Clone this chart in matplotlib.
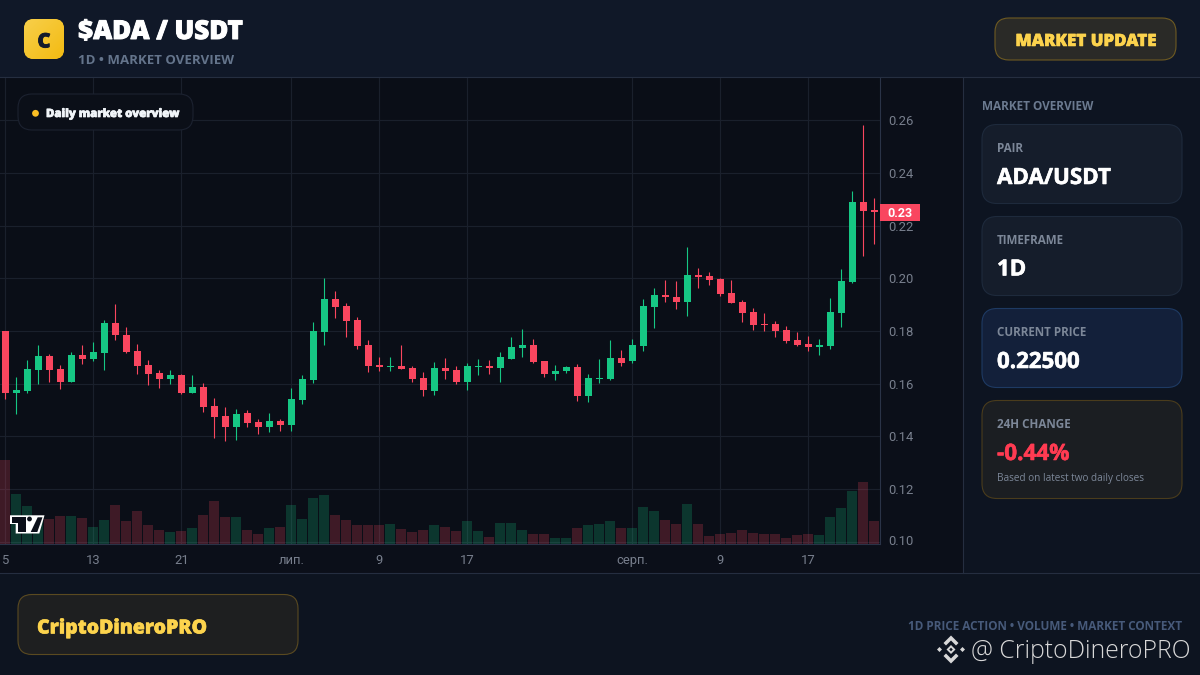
import matplotlib
matplotlib.use("Agg")
import matplotlib.pyplot as plt
import matplotlib.patheffects as pe
import matplotlib.transforms as mtrans
import numpy as np
from matplotlib.patches import FancyBboxPatch, Rectangle, Polygon, Circle
from matplotlib.colors import LinearSegmentedColormap

opens = [.1800,.1564,.1572,.1652,.1705,.1656,.1606,.1709,.1694,.1716,
         .1830,.1785,.1724,.1671,.1640,.1618,.1633,.1564,.1587,.1515,
         .1477,.1435,.1489,.1454,.1435,.1458,.1443,.1538,.1614,.1796,
         .1922,.1895,.1842,.1747,.1671,.1663,.1667,.1659,.1621,.1572,
         .1659,.1652,.1606,.1663,.1667,.1659,.1694,.1735,.1747,.1686,
         .1637,.1648,.1663,.1553,.1619,.1619,.1699,.1684,.1744,.1891,
         .1937,.1929,.1910,.2013,.2009,.1997,.1944,.1910,.1872,.1827,
         .1827,.1804,.1766,.1751,.1739,.1743,.1868,.1986,.2290,.2260]
highs = [.1800,.1625,.1690,.1747,.1713,.1671,.1720,.1747,.1758,.1842,
         .1903,.1815,.1751,.1690,.1652,.1652,.1637,.1633,.1602,.1545,
         .1511,.1504,.1500,.1466,.1489,.1466,.1583,.1633,.1834,.2001,
         .1952,.1906,.1853,.1766,.1701,.1701,.1747,.1667,.1644,.1682,
         .1697,.1667,.1678,.1694,.1690,.1720,.1777,.1808,.1770,.1686,
         .1671,.1667,.1675,.1637,.1695,.1767,.1729,.1771,.1922,.1963,
         .1994,.1990,.2119,.2039,.2024,.2001,.1994,.1918,.1887,.1868,
         .1838,.1819,.1796,.1781,.1770,.1925,.2035,.2332,.2582,.2305]
lows = [.1542,.1485,.1564,.1599,.1606,.1580,.1606,.1675,.1686,.1652,
        .1766,.1716,.1637,.1595,.1583,.1599,.1561,.1564,.1492,.1394,
        .1382,.1386,.1435,.1409,.1416,.1420,.1420,.1523,.1602,.1747,
        .1849,.1777,.1732,.1644,.1648,.1648,.1656,.1606,.1553,.1557,
        .1618,.1599,.1576,.1633,.1637,.1606,.1694,.1701,.1678,.1625,
        .1614,.1640,.1534,.1530,.1604,.1615,.1665,.1680,.1725,.1811,
        .1910,.1884,.1857,.1963,.1975,.1933,.1906,.1834,.1804,.1800,
        .1777,.1754,.1743,.1724,.1709,.1732,.1815,.1982,.2085,.2130]
closes = [.1564,.1576,.1656,.1705,.1652,.1606,.1709,.1694,.1720,.1830,
          .1785,.1720,.1667,.1637,.1618,.1633,.1564,.1587,.1511,.1473,
          .1435,.1485,.1451,.1435,.1458,.1443,.1542,.1618,.1800,.1922,
          .1891,.1838,.1743,.1667,.1663,.1667,.1656,.1618,.1576,.1659,
          .1648,.1606,.1667,.1667,.1659,.1701,.1739,.1747,.1682,.1637,
          .1648,.1663,.1553,.1621,.1623,.1699,.1680,.1748,.1895,.1937,
          .1929,.1910,.2013,.2005,.1994,.1941,.1906,.1868,.1823,.1823,
          .1800,.1762,.1747,.1739,.1747,.1872,.1990,.2290,.2256,.2250]
volumes = [252,150,114,75,75,84,84,78,51,72,
           117,69,99,57,42,36,39,48,87,129,
           81,81,42,30,48,51,117,75,138,147,
           87,72,57,57,57,60,45,36,42,57,
           51,39,69,39,21,63,63,42,30,30,
           18,18,48,57,60,69,48,48,111,99,
           72,60,120,60,24,30,33,42,33,30,
           30,18,27,30,27,81,108,159,186,69]
price_ticks = [0.10, 0.12, 0.14, 0.16, 0.18, 0.20, 0.22, 0.24, 0.26]
price_tick_labels = ["0.10", "0.12", "0.14", "0.16", "0.18", "0.20", "0.22", "0.24", "0.26"]
date_tick_positions = [0, 8, 16, 26, 34, 42, 57, 65, 73]
date_tick_labels = ["5", "13", "21", "лип.", "9", "17", "серп.", "9", "17"]

GREEN, RED = "#16c784", "#f9465f"
UI = ["Open Sans", "Noto Sans", "DejaVu Sans"]
AXF = ["Roboto", "DejaVu Sans"]
GRID = "#1a202c"
LINE = "#252e40"

def px(v):
    return v * 0.72

fig = plt.figure(figsize=(12, 6.75), dpi=100, facecolor="#0d1420")

bg = fig.add_axes([0, 0, 1, 1], zorder=0)
bg.set_xlim(0, 1200); bg.set_ylim(675, 0); bg.axis("off")
bg.add_patch(Rectangle((0, 0), 1200, 77.5, fc="#101828", ec="none"))
bg.add_patch(Rectangle((964, 78), 236, 495, fc="#0d1421", ec="none"))
bg.add_patch(Rectangle((0, 78), 964, 495, fc="#0b0f19", ec="none"))
bg.add_patch(Rectangle((0, 574), 1200, 101, fc="#0d1420", ec="none"))

# chart
L, R, T, B = 0, 880, 78, 544
rect = [L / 1200, 1 - B / 675, (R - L) / 1200, (B - T) / 675]
ax = fig.add_axes(rect, zorder=1)
ax.set_facecolor("#0a0e17")
xlim = (-0.485, 79.515)
ylim = (0.26 - (B - 120.3) / 2633, 0.26 + (120.3 - T) / 2633)
ax.set_xlim(*xlim); ax.set_ylim(*ylim)
ax.yaxis.tick_right()
ax.set_yticks(price_ticks); ax.set_yticklabels(price_tick_labels)
ax.set_xticks(date_tick_positions); ax.set_xticklabels(date_tick_labels)
ax.tick_params(axis="both", length=0, labelcolor="#787f8d", labelsize=px(13))
ax.tick_params(axis="y", pad=6)
ax.tick_params(axis="x", pad=7)
for lab in ax.get_xticklabels() + ax.get_yticklabels():
    lab.set_fontfamily(AXF)
# the lowest price label sits slightly above its grid line
low_label = ax.get_yticklabels()[0]
low_label.set_transform(low_label.get_transform() + mtrans.ScaledTranslation(0, 2 / 100, fig.dpi_scale_trans))
ax.grid(True, color=GRID, lw=0.85)
ax.set_axisbelow(True)
for s in ("top", "left"):
    ax.spines[s].set_visible(False)
for s in ("right", "bottom"):
    ax.spines[s].set_color("#2a3347"); ax.spines[s].set_linewidth(0.8)

idx = np.arange(len(opens))
col = [GREEN if c >= o else RED for o, c in zip(opens, closes)]
wicks = ax.vlines(idx, lows, highs, colors=col, lw=0.8, zorder=3)
wicks.set_snap(True)
body_b = [min(o, c) for o, c in zip(opens, closes)]
body_h = [max(abs(c - o), 0.0004) for o, c in zip(opens, closes)]
ax.bar(idx, body_h, bottom=body_b, width=0.64, color=col, lw=0, zorder=4)

vol = fig.add_axes(rect, zorder=2)
vol.patch.set_alpha(0)
vol.set_xlim(*xlim); vol.set_ylim(0, (B - T) * 3)
vol.axis("off")
vol.bar(idx, volumes, width=0.91, color=col, alpha=0.22, lw=0)

# overlay
fg = fig.add_axes([0, 0, 1, 1], zorder=5)
fg.patch.set_alpha(0)
fg.set_xlim(0, 1200); fg.set_ylim(675, 0); fg.axis("off")

def card(x0, y0, x1, y1, r, fc, ec, lw=0.8):
    p = FancyBboxPatch((x0, y0), x1 - x0, y1 - y0, boxstyle=f"round,pad=0,rounding_size={r}",
                       fc=fc, ec=ec, lw=lw, mutation_aspect=1)
    fg.add_patch(p)
    return p

def txt(x, y, s, size, color, weight="bold", ha="left", family=UI, thick=0):
    t = fg.text(x, y, s, fontsize=px(size), color=color, fontweight=weight, ha=ha,
                va="center_baseline", family=family)
    if thick:
        t.set_path_effects([pe.withStroke(linewidth=thick, foreground=color)])
    return t

for y in (77.2, 573.2):
    fg.plot([0, 1200], [y, y], color=LINE, lw=0.8)
fg.plot([963.2, 963.2], [78, 573], color=LINE, lw=0.8)

# logo
logo = card(24, 19, 64, 59, 10, "#f8c52c", "none", 0)
grad = LinearSegmentedColormap.from_list("g", ["#f8cf4a", "#f3bb12"])
gx, gy = np.meshgrid(np.linspace(0, 1, 40), np.linspace(0, 1, 40))
im = fg.imshow(gx + gy, cmap=grad, extent=(24, 64, 59, 19), aspect="auto", zorder=1.5)
im.set_clip_path(logo)
fg.set_xlim(0, 1200); fg.set_ylim(675, 0)
txt(44, 40, "C", 20, "#141a2b", "heavy", "center", thick=0.6).set_zorder(3)
txt(78, 29, "$ADA / USDT", 26, "#ffffff", "heavy", thick=0.7)
txt(78, 59.5, "1D • MARKET OVERVIEW", 13.2, "#64748b")

card(995, 18, 1176, 60, 14, "#2a2a27", "#6e5a22", 0.8)
txt(1085.5, 39.5, "MARKET UPDATE", 16.9, "#fcd34d", "heavy", "center", thick=0.4)

card(18, 94, 193, 130, 14, "#0b0f18", "#1c2230", 0.8)
fg.add_patch(Circle((35.5, 113.3), 3.4, fc="#fbbf24", ec="none"))
txt(46, 113, "Daily market overview", 11.4, "#f1f5f9", "heavy", thick=0.5)

# TV mark
fg.add_patch(Polygon([(10, 515.3), (44.5, 515.3), (39.3, 533.5), (15.7, 533.5), (15.7, 524), (10, 524)],
                     fc="#ffffff", ec="none"))
fg.add_patch(Polygon([(12, 517.3), (26, 517.3), (26, 532), (17.5, 532), (17.5, 522.5), (12, 522.5)],
                     fc="#0b0f19", ec="none"))
fg.add_patch(Circle((29.5, 519), 2.4, fc="#0b0f19", ec="none"))
fg.add_patch(Polygon([(37.7, 517.3), (42.5, 517.3), (37.3, 532), (30.7, 532)], fc="#0b0f19", ec="none"))

# price badge
fg.add_patch(Rectangle((880, 204.3), 39.5, 16.5, fc=RED, ec="none"))
txt(900, 212.3, "0.23", 12.5, "#ffffff", "bold", "center", AXF)

# side panel
txt(982, 105, "MARKET OVERVIEW", 11.8, "#6b7a90")
card(982, 124.5, 1182, 203.5, 15, "#151d2b", "#1e2a3c")
card(982, 216.5, 1182, 295.5, 15, "#151d2b", "#1e2a3c")
card(982, 308.5, 1182, 387.5, 15, "#13203a", "#1e3a63")
card(982, 400.5, 1182, 498.5, 15, "#1b1e22", "#4a3c1c")
LAB = "#7c8798"
txt(997, 147.5, "PAIR", 11.6, LAB)
txt(997, 176, "ADA/USDT", 22.3, "#ffffff", thick=0.4)
txt(997, 239.5, "TIMEFRAME", 11.6, LAB)
txt(997, 267.5, "1D", 22.3, "#ffffff", thick=0.4)
txt(997, 331.5, "CURRENT PRICE", 11.6, LAB)
txt(997, 360, "0.22500", 22.3, "#ffffff", thick=0.4)
txt(997, 423.5, "24H CHANGE", 11.6, LAB)
txt(997, 452, "-0.44%", 22.5, "#ff3b52", thick=0.4)
txt(997, 476.5, "Based on latest two daily closes", 10, LAB, "normal")

# footer
card(18, 594.5, 298, 654.5, 14, "#1e1f20", "#5a4a20")
txt(37, 626, "CriptoDineroPRO", 19.5, "#fcd34d", "heavy", thick=0.4)
txt(1182, 625, "1D PRICE ACTION • VOLUME • MARKET CONTEXT", 11.75, "#475a7a", "bold", "right")

# watermark
cx, cy = 951, 649.5
W = "#d8d8d8"
fg.add_patch(Polygon([(cx, cy - 14), (cx + 7.5, cy - 6.5), (cx + 5, cy - 4), (cx, cy - 9), (cx - 5, cy - 4), (cx - 7.5, cy - 6.5)], fc=W, ec="none"))
fg.add_patch(Polygon([(cx, cy + 14), (cx + 7.5, cy + 6.5), (cx + 5, cy + 4), (cx, cy + 9), (cx - 5, cy + 4), (cx - 7.5, cy + 6.5)], fc=W, ec="none"))
for dx in (-11.5, 11.5):
    fg.add_patch(Polygon([(cx + dx - 2.5, cy), (cx + dx, cy - 2.5), (cx + dx + 2.5, cy), (cx + dx, cy + 2.5)], fc=W, ec="none"))
fg.add_patch(Polygon([(cx - 4.5, cy), (cx, cy - 4.5), (cx + 4.5, cy), (cx, cy + 4.5)], fc=W, ec="none"))
fg.add_patch(Polygon([(cx - 1.8, cy), (cx, cy - 1.8), (cx + 1.8, cy), (cx, cy + 1.8)], fc="#0d1420", ec="none"))
txt(971, 649, "@ CriptoDineroPRO", 24.75, W, "light")

fig.savefig("out.png", dpi=100, facecolor=fig.get_facecolor())
